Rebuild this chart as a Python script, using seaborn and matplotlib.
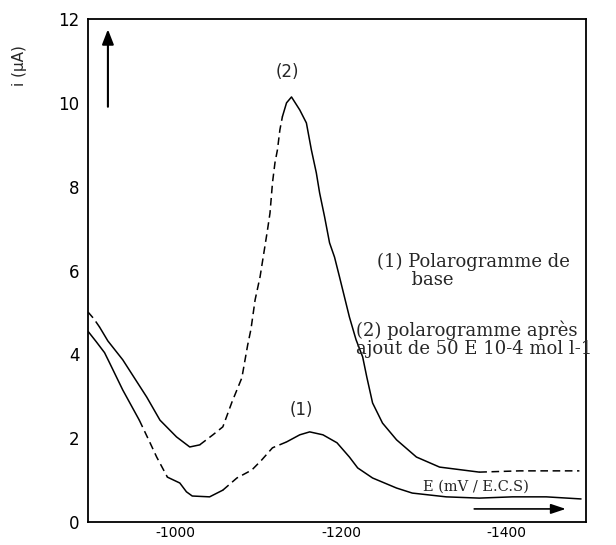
import numpy as np
import pandas as pd
import matplotlib
matplotlib.use("Agg")
import matplotlib.pyplot as plt
import seaborn as sns

# ---- data ----
E2 = [-894, -901, -908, -918, -936, -950, -965, -981, -1001, -1017, -1029, -1045,
      -1057, -1068, -1080, -1087, -1091, -1096, -1102, -1111, -1114, -1117, -1120,
      -1123, -1126, -1129, -1134, -1140, -1150, -1158, -1164, -1170, -1174, -1180,
      -1186, -1192, -1198, -1204, -1210, -1218, -1226, -1231, -1238, -1250, -1267,
      -1291, -1319, -1347, -1367, -1416, -1488]
I2 = [5.01, 4.85, 4.65, 4.32, 3.87, 3.44, 2.98, 2.43, 2.03, 1.79, 1.84, 2.08,
      2.27, 2.86, 3.44, 4.22, 4.6, 5.3, 5.85, 6.97, 7.37, 8.09, 8.57,
      8.88, 9.36, 9.67, 10.0, 10.14, 9.83, 9.52, 8.88, 8.33, 7.85, 7.28,
      6.66, 6.32, 5.85, 5.37, 4.89, 4.35, 3.94, 3.46, 2.84, 2.36, 1.96,
      1.55, 1.31, 1.24, 1.19, 1.22, 1.22]

E1 = [-894, -904, -914, -920, -936, -956, -969, -977, -990, -1005, -1013, -1020,
      -1041, -1057, -1074, -1092, -1104, -1117, -1134, -1150, -1162, -1178,
      -1195, -1210, -1220, -1238, -1267, -1286, -1327, -1367, -1407, -1448, -1490]
I1 = [4.55, 4.3, 4.04, 3.8, 3.15, 2.43, 1.89, 1.55, 1.07, 0.93, 0.72, 0.62,
      0.60, 0.76, 1.05, 1.24, 1.48, 1.77, 1.91, 2.08, 2.15, 2.08,
      1.89, 1.55, 1.29, 1.05, 0.81, 0.69, 0.60, 0.57, 0.60, 0.60, 0.55]

y_ticks = [0, 2, 4, 6, 8, 10, 12]
x_ticks = [-1000, -1200, -1400]
x_tick_labels = ["-1000", "-1200", "-1400"]

curve1_label = "(1)"
curve2_label = "(2)"
note1 = "(1) Polarogramme de\n      base"
note2 = "(2) polarogramme après\najout de 50 E 10-4 mol l-1"
xlabel_text = "E (mV / E.C.S)"
ylabel_text = "i (µA)"

sns.set_style("white")
plt.rcParams['font.family'] = ['DejaVu Sans']

fig = plt.figure(figsize=(6.16, 5.45), dpi=100)
ax = fig.add_axes([88/616, 23/545, 498/616, 503/545])


def draw(E, I, dashed_ranges):
    E = np.asarray(E, float)
    I = np.asarray(I, float)

    def is_dashed(e):
        return any(hi <= e <= lo for lo, hi in dashed_ranges)
    flags = [is_dashed((E[k] + E[k+1]) / 2) for k in range(len(E) - 1)]
    start = 0
    for k in range(1, len(flags) + 1):
        if k == len(flags) or flags[k] != flags[start]:
            seg = pd.DataFrame({"E": E[start:k+1], "i": I[start:k+1]})
            sns.lineplot(data=seg, x="E", y="i", ax=ax, sort=False,
                         color="black", lw=1.1,
                         linestyle=(0, (5, 3)) if flags[start] else "-")
            start = k


draw(E2, I2, [(-894, -912), (-1030, -1128), (-1370, -1500)])
draw(E1, I1, [(-962, -995), (-1060, -1130)])

ax.set_xlim(-894, -1496)
ax.set_ylim(0, 12)
ax.set_xticks(x_ticks)
ax.set_xticklabels(x_tick_labels, fontsize=10)
ax.set_xticks(np.arange(-900, -1500, -50), minor=True)
ax.set_yticks(y_ticks)
ax.set_yticklabels([str(v) for v in y_ticks], fontsize=12)
ax.set_yticks(np.arange(1, 12, 2), minor=True)
ax.tick_params(axis="both", which="major", direction="in", length=6, width=1.2,
               colors="black", pad=6)
ax.tick_params(axis="both", which="minor", direction="in", length=3, width=1.2,
               colors="black")
ax.tick_params(axis="x", which="major", pad=3)
ax.set_xlabel("")
ax.set_ylabel("")
for s in ax.spines.values():
    s.set_color("black")
    s.set_linewidth(1.3)

serif = ['DejaVu Serif']
ax.text(-1135, 10.74, curve2_label, fontsize=12, ha="center", va="center",
        family=['DejaVu Sans'])
ax.text(-1152, 2.67, curve1_label, fontsize=12, ha="center", va="center",
        family=['DejaVu Sans'])
ax.text((377-88)/498, (522-253)/503, note1, transform=ax.transAxes, fontsize=13,
        family=serif, ha="left", va="top", linespacing=0.95,
        clip_on=False)
ax.text((356-88)/498, (522-321)/503, note2, transform=ax.transAxes, fontsize=13,
        family=serif, ha="left", va="top", linespacing=1.0,
        clip_on=False)
ax.text((423-88)/498, (522-487)/503, xlabel_text, transform=ax.transAxes, fontsize=10.5,
        family=serif, ha="left", va="center")

# axis arrows
ax.annotate("", xy=(0.04, 0.985), xytext=(0.04, 0.82), xycoords="axes fraction",
            arrowprops=dict(arrowstyle="-|>,head_length=0.9,head_width=0.35",
                            color="black", lw=1.5))
ax.annotate("", xy=(0.965, 0.026), xytext=(0.77, 0.026), xycoords="axes fraction",
            arrowprops=dict(arrowstyle="-|>,head_length=0.9,head_width=0.3",
                            color="black", lw=1.2))

fig.text(20/616, 1 - 66/545, ylabel_text, rotation=90, fontsize=11,
         ha="center", va="center")

fig.savefig("out.png", dpi=100)
